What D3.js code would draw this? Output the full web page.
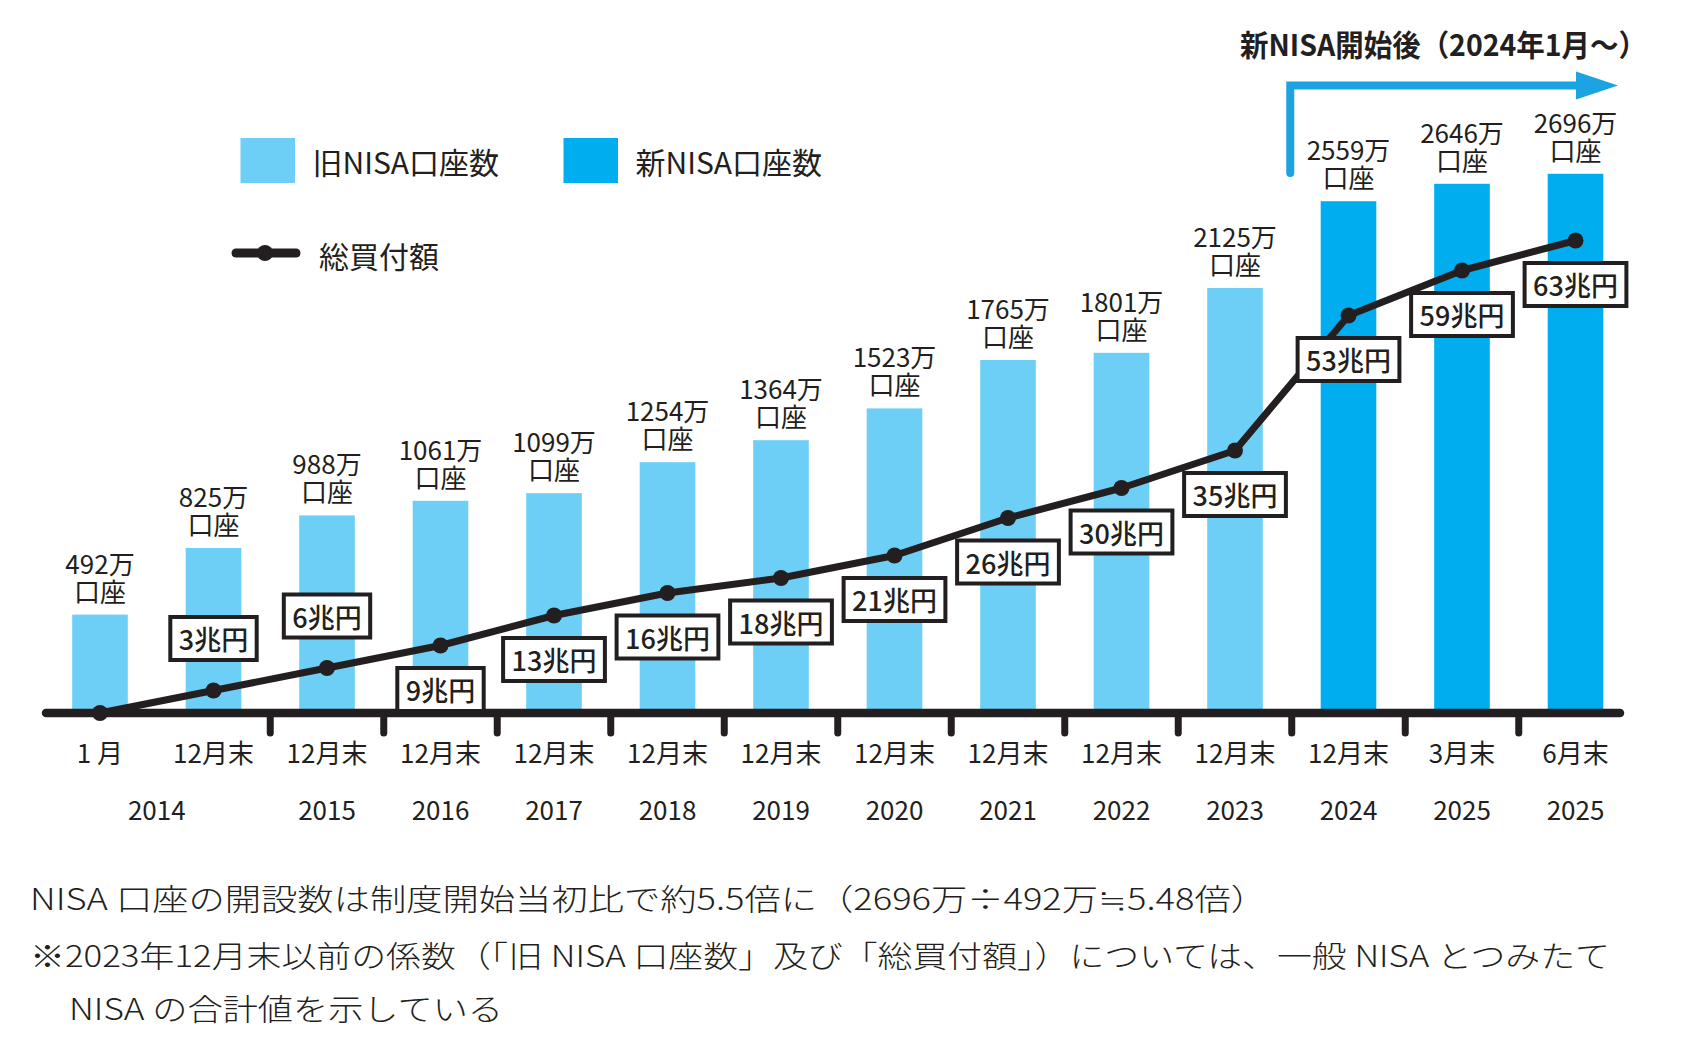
<!DOCTYPE html>
<html lang="ja">
<head>
<meta charset="utf-8">
<script src="https://cdn.jsdelivr.net/npm/d3@7"></script>
<style>
  body { margin: 0; background: #fff; }
  svg { display: block; font-family: "Noto Sans CJK JP", "Noto Sans", sans-serif; }
  .ink { fill: #231f20; }
</style>
</head>
<body>
<svg id="chart" width="1696" height="1048"></svg>
<script>
const MONTH_LABELS = ["1 月", "12月末", "12月末", "12月末", "12月末", "12月末", "12月末",
  "12月末", "12月末", "12月末", "12月末", "12月末", "3月末", "6月末"];
// [label, first column, last column]
const YEAR_LABELS = [["2014", 0, 1], ["2015", 2, 2], ["2016", 3, 3], ["2017", 4, 4],
  ["2018", 5, 5], ["2019", 6, 6], ["2020", 7, 7], ["2021", 8, 8], ["2022", 9, 9],
  ["2023", 10, 10], ["2024", 11, 11], ["2025", 12, 12], ["2025", 13, 13]];
const ACCOUNTS = [492, 825, 988, 1061, 1099, 1254, 1364, 1523, 1765, 1801, 2125, 2559, 2646, 2696];
const PURCHASES = [0, 3, 6, 9, 13, 16, 18, 21, 26, 30, 35, 53, 59, 63];
const SERIES = ["旧NISA口座数", "新NISA口座数", "総買付額"];
const NEW_NISA_FROM = 11;
const LABELS_ABOVE = [1, 2];
const TITLE = "新NISA開始後（2024年1月～）";
const NOTES = [
  "NISA 口座の開設数は制度開始当初比で約5.5倍に（2696万÷492万≒5.48倍）",
  "※2023年12月末以前の係数（「旧 NISA 口座数」及び「総買付額」）については、一般 NISA とつみたて",
  "NISA の合計値を示している"
];

const svg = d3.select("#chart");
const ink = "#231f20";
const light = "#6dcff6";
const dark = "#00aeef";
const arrowBlue = "#1ca3e2";
const baseY = 713;

const x = d3.scaleBand().domain(d3.range(ACCOUNTS.length)).range([43.25, 1632.25]).padding(0);
const cx = i => x(i) + x.bandwidth() / 2;
const barW = x.bandwidth() * 0.49;
const yBar = d3.scaleLinear().domain([0, 3000]).range([baseY, 113]);
const yLine = d3.scaleLinear().domain([0, 80]).range([baseY, 113]);

// bars
svg.append("g").selectAll("rect")
  .data(ACCOUNTS)
  .join("rect")
  .attr("x", (d, i) => cx(i) - barW / 2)
  .attr("width", barW)
  .attr("y", d => yBar(d))
  .attr("height", d => baseY - yBar(d))
  .attr("fill", (d, i) => i >= NEW_NISA_FROM ? dark : light);

// bar value labels (two lines in one text)
const valueLabels = svg.append("g").attr("class", "ink")
  .style("font-size", "26px")
  .attr("text-anchor", "middle")
  .selectAll("text")
  .data(ACCOUNTS)
  .join("text")
  .attr("transform", (d, i) => `translate(${cx(i)},${yBar(d)})`);
valueLabels.append("tspan")
  .attr("x", 0).attr("y", -41)
  .text(d => `${d}万`);
valueLabels.append("tspan")
  .attr("x", 0).attr("y", -13)
  .text("口座");

// axis line + ticks
svg.append("line")
  .attr("x1", 46).attr("x2", 1620)
  .attr("y1", baseY).attr("y2", baseY)
  .attr("stroke", ink).attr("stroke-width", 8.5).attr("stroke-linecap", "round");
svg.append("g").selectAll("line")
  .data(d3.range(2, ACCOUNTS.length))
  .join("line")
  .attr("x1", i => x(i)).attr("x2", i => x(i))
  .attr("y1", baseY).attr("y2", 733)
  .attr("stroke", ink).attr("stroke-width", 7).attr("stroke-linecap", "round");

svg.append("g").attr("class", "ink")
  .style("font-size", "26px")
  .attr("text-anchor", "middle")
  .selectAll("text")
  .data(MONTH_LABELS)
  .join("text")
  .attr("x", (d, i) => cx(i))
  .attr("y", 751)
  .attr("dominant-baseline", "central")
  .text(d => d);

svg.append("g").attr("class", "ink")
  .style("font-size", "26px")
  .attr("text-anchor", "middle")
  .selectAll("text")
  .data(YEAR_LABELS)
  .join("text")
  .attr("x", d => (cx(d[1]) + cx(d[2])) / 2)
  .attr("y", 808)
  .attr("dominant-baseline", "central")
  .text(d => d[0]);

// purchase line
const line = d3.line().x((d, i) => cx(i)).y(d => yLine(d));
svg.append("path")
  .datum(PURCHASES)
  .attr("d", line)
  .attr("fill", "none")
  .attr("stroke", ink)
  .attr("stroke-width", 7)
  .attr("stroke-linejoin", "round");
svg.append("g").selectAll("circle")
  .data(PURCHASES)
  .join("circle")
  .attr("cx", (d, i) => cx(i))
  .attr("cy", d => yLine(d))
  .attr("r", 8)
  .attr("fill", ink);

// boxed amount labels
const boxes = svg.append("g").selectAll("g")
  .data(PURCHASES.map((v, i) => ({ v, i })).filter(d => d.v > 0))
  .join("g")
  .attr("transform", d => {
    const off = LABELS_ABOVE.includes(d.i) ? -52 : 44;
    return `translate(${cx(d.i)},${yLine(d.v) + off})`;
  });
boxes.append("rect").attr("fill", "#fff").attr("stroke", ink).attr("stroke-width", 4);
boxes.append("text")
  .attr("class", "ink")
  .attr("text-anchor", "middle")
  .attr("dominant-baseline", "central")
  .style("font-size", "27px")
  .style("font-weight", 500)
  .text(d => `${d.v}兆円`);
boxes.each(function () {
  const g = d3.select(this);
  const w = g.select("text").node().getComputedTextLength() + 17;
  g.select("rect").attr("x", -w / 2).attr("y", -21.5).attr("width", w).attr("height", 43);
});

// legend
const legend = svg.append("g").style("font-size", "30px");
[[0, 240.5, light], [1, 563.5, dark]].forEach(([k, lx, col]) => {
  legend.append("rect").attr("x", lx).attr("y", 138).attr("width", 54.5).attr("height", 45).attr("fill", col);
  legend.append("text").attr("class", "ink")
    .attr("x", lx + 72).attr("y", 161)
    .attr("dominant-baseline", "central")
    .text(SERIES[k]);
});
legend.append("line")
  .attr("x1", 236).attr("x2", 296).attr("y1", 253).attr("y2", 253)
  .attr("stroke", ink).attr("stroke-width", 9).attr("stroke-linecap", "round");
legend.append("circle").attr("cx", 265).attr("cy", 253).attr("r", 8).attr("fill", ink);
legend.append("text").attr("class", "ink")
  .attr("x", 319).attr("y", 255)
  .attr("dominant-baseline", "central")
  .text(SERIES[2]);

// new NISA arrow + title
const ax = x(NEW_NISA_FROM) - 1.5;
svg.append("path")
  .attr("d", `M${ax},173 L${ax},85.5 L1580,85.5`)
  .attr("fill", "none")
  .attr("stroke", arrowBlue)
  .attr("stroke-width", 8)
  .attr("stroke-linecap", "round")
  .attr("stroke-linejoin", "miter");
svg.append("path")
  .attr("d", "M1576,71.5 L1618,85.5 L1576,99.5 Z")
  .attr("fill", arrowBlue);
svg.append("text").attr("class", "ink")
  .attr("x", 1240).attr("y", 43)
  .attr("dominant-baseline", "central")
  .attr("textLength", 407)
  .attr("lengthAdjust", "spacingAndGlyphs")
  .style("font-size", "30px")
  .style("font-weight", 700)
  .text(TITLE);

// notes
const notePos = [[30, 897, 1237], [30, 954, 1580], [69, 1007, 434]];
svg.append("g").style("font-size", "30px").style("font-weight", 300)
  .selectAll("text")
  .data(NOTES)
  .join("text")
  .attr("class", "ink")
  .attr("x", (d, i) => notePos[i][0])
  .attr("y", (d, i) => notePos[i][1])
  .attr("textLength", (d, i) => notePos[i][2])
  .attr("lengthAdjust", "spacingAndGlyphs")
  .attr("dominant-baseline", "central")
  .text(d => d);
</script>
</body>
</html>
